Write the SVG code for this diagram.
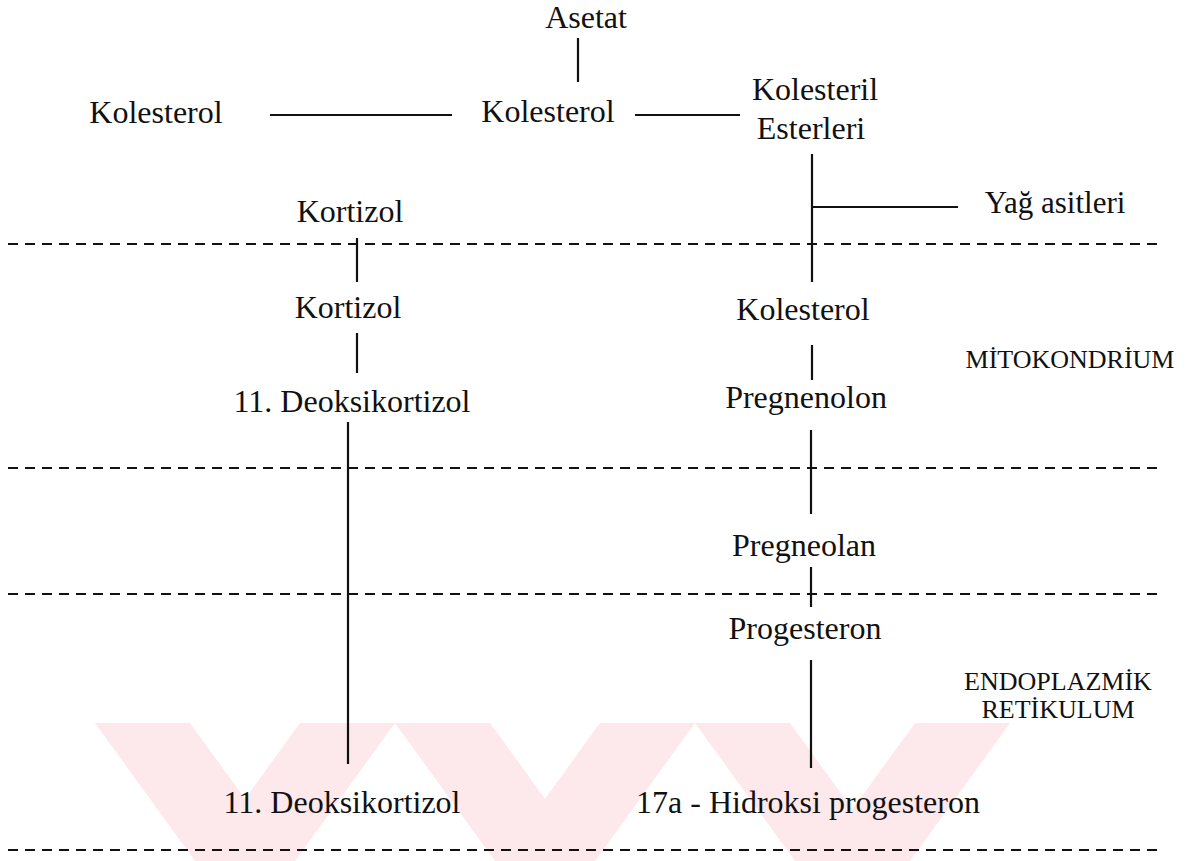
<svg xmlns="http://www.w3.org/2000/svg" width="1191" height="861" viewBox="0 0 1191 861">
<style>
text{font-family:"Liberation Serif","Times New Roman",serif;fill:#111;font-size:32px;text-anchor:middle}
.sm{font-size:26px}
.ln{stroke:#111;stroke-width:2.2;fill:none}
.ds{stroke:#111;stroke-width:2;stroke-dasharray:10 7;fill:none}
.wm{fill:#fde8eb}
</style>
<rect width="1191" height="861" fill="#fff"/>
<g id="watermark">
<polygon class="wm" points="95,723 190,723 290,861 195,861"/>
<polygon class="wm" points="300,723 395,723 295,861 200,861"/>
<polygon class="wm" points="395,723 490,723 590,861 495,861"/>
<polygon class="wm" points="600,723 695,723 595,861 500,861"/>
<polygon class="wm" points="695,723 790,723 890,861 795,861"/>
<polygon class="wm" points="915,723 1010,723 910,861 815,861"/>
</g>
<g id="compartments">
<line class="ds" x1="8" y1="244" x2="1158" y2="244"/>
<line class="ds" x1="8" y1="468" x2="1158" y2="468"/>
<line class="ds" x1="8" y1="594" x2="1158" y2="594"/>
<line class="ds" x1="8" y1="850" x2="1158" y2="850"/>
</g>
<g id="connectors">
<line class="ln" x1="578" y1="38" x2="578" y2="82"/>
<line class="ln" x1="270" y1="115" x2="452" y2="115"/>
<line class="ln" x1="635" y1="115" x2="740" y2="115"/>
<line class="ln" x1="812" y1="154" x2="812" y2="282"/>
<line class="ln" x1="812" y1="207" x2="958" y2="207"/>
<line class="ln" x1="357" y1="238" x2="357" y2="282"/>
<line class="ln" x1="357" y1="333" x2="357" y2="373"/>
<line class="ln" x1="812" y1="345" x2="812" y2="380"/>
<line class="ln" x1="348" y1="422" x2="348" y2="764"/>
<line class="ln" x1="811" y1="430" x2="811" y2="514"/>
<line class="ln" x1="811" y1="567" x2="811" y2="607"/>
<line class="ln" x1="811" y1="660" x2="811" y2="768"/>
</g>
<g id="n-asetat"><text x="586" y="28">Asetat</text></g>
<g id="n-kolesterol-1"><text x="156" y="123">Kolesterol</text></g>
<g id="n-kolesterol-2"><text x="548" y="122">Kolesterol</text></g>
<g id="n-kolesteril"><text x="815" y="100">Kolesteril</text><text x="811" y="139">Esterleri</text></g>
<g id="n-yag"><text x="1055" y="213" style="font-size:31px">Yağ asitleri</text></g>
<g id="n-kortizol-1"><text x="350" y="222">Kortizol</text></g>
<g id="n-kortizol-2"><text x="348" y="318">Kortizol</text></g>
<g id="n-kolesterol-3"><text x="803" y="320">Kolesterol</text></g>
<g id="n-mito"><text class="sm" x="1070" y="368">MİTOKONDRİUM</text></g>
<g id="n-deoksi-1"><text x="352" y="412">11. Deoksikortizol</text></g>
<g id="n-pregnenolon"><text x="806" y="408">Pregnenolon</text></g>
<g id="n-pregneolan"><text x="804" y="556">Pregneolan</text></g>
<g id="n-progesteron"><text x="805" y="639">Progesteron</text></g>
<g id="n-er"><text class="sm" x="1058" y="690">ENDOPLAZMİK</text><text class="sm" x="1058" y="718">RETİKULUM</text></g>
<g id="n-deoksi-2"><text x="342" y="813">11. Deoksikortizol</text></g>
<g id="n-hidroksi"><text x="808" y="813">17a - Hidroksi progesteron</text></g>
</svg>
